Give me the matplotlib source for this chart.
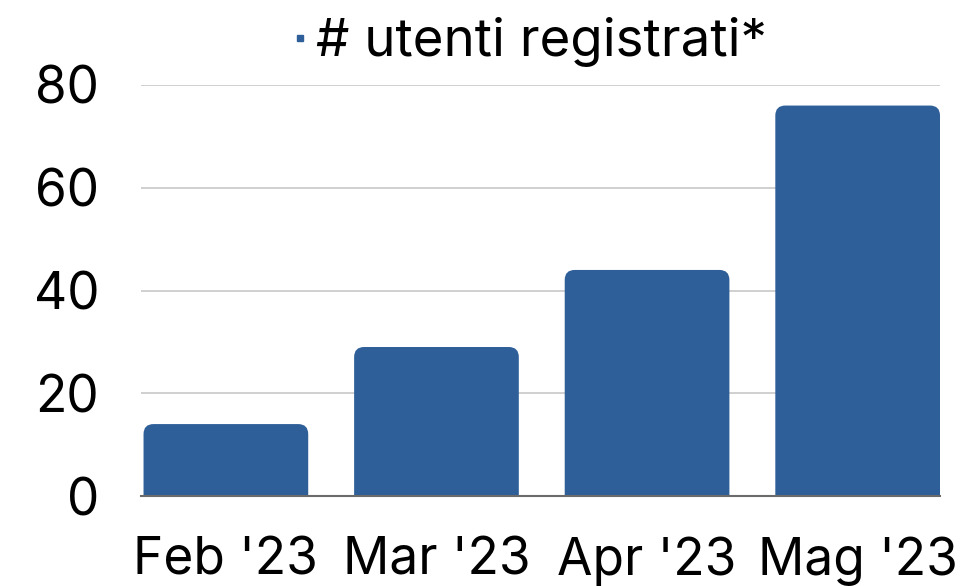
import matplotlib
matplotlib.use("Agg")
import matplotlib.pyplot as plt
from matplotlib.patches import FancyBboxPatch
from matplotlib.lines import Line2D

categories = ["Feb '23", "Mar '23", "Apr '23", "Mag '23"]
values = [14, 29, 44, 76]
series_name = "# utenti registrati*"
yticks = [0, 20, 40, 60, 80]

color = "#2E5F99"
plt.rcParams['font.family'] = ['Inter', 'DejaVu Sans']

fig = plt.figure(figsize=(9.64, 5.86), dpi=100)
ax = fig.add_axes([141/964, 1-496/586, (940-141)/964, (496-85)/586])

width = 0.782
x = list(range(len(categories)))
bars = ax.bar(x, values, width=width, color=color, alpha=0)
ax.set_xlim(-width/2 - 0.012, len(categories) - 1 + width/2)
ax.set_ylim(0, 80)

fig.canvas.draw()
# rounded top corners
px_x = ax.transData.transform((1, 0))[0] - ax.transData.transform((0, 0))[0]
px_y = ax.transData.transform((0, 1))[1] - ax.transData.transform((0, 0))[1]
aspect = px_x / px_y
r = 10 / px_x
for b in bars:
    bx, bw, bh = b.get_x(), b.get_width(), b.get_height()
    p = FancyBboxPatch((bx, -5), bw, bh + 5,
                       boxstyle=f"round,pad=0,rounding_size={r}",
                       mutation_aspect=aspect, facecolor=color, edgecolor='none', zorder=2)
    ax.add_patch(p)

ax.set_yticks(yticks)
ax.set_xticks(x)
ax.set_xticklabels(categories)
ax.tick_params(axis='both', length=0, labelsize=37, colors='black')
ax.tick_params(axis='y', pad=30)
ax.tick_params(axis='x', pad=29)
ax.yaxis.grid(True, color='#c8c8c8', linewidth=1.2)
ax.set_axisbelow(True)
for s in ['top', 'right', 'left']:
    ax.spines[s].set_visible(False)
ax.spines['bottom'].set_color('#6b6b6b')
ax.spines['bottom'].set_linewidth(1.5)
ax.spines['bottom'].set_zorder(3)

handle = Line2D([], [], marker='s', color=color, linestyle='none', markersize=3.8)
fig.legend([handle], [series_name], loc='center', bbox_to_anchor=(531/964, 1-42/586),
           frameon=False, fontsize=38, handlelength=0.2, handletextpad=0.2,
           borderpad=0, borderaxespad=0)

fig.savefig("out.png", dpi=100)
